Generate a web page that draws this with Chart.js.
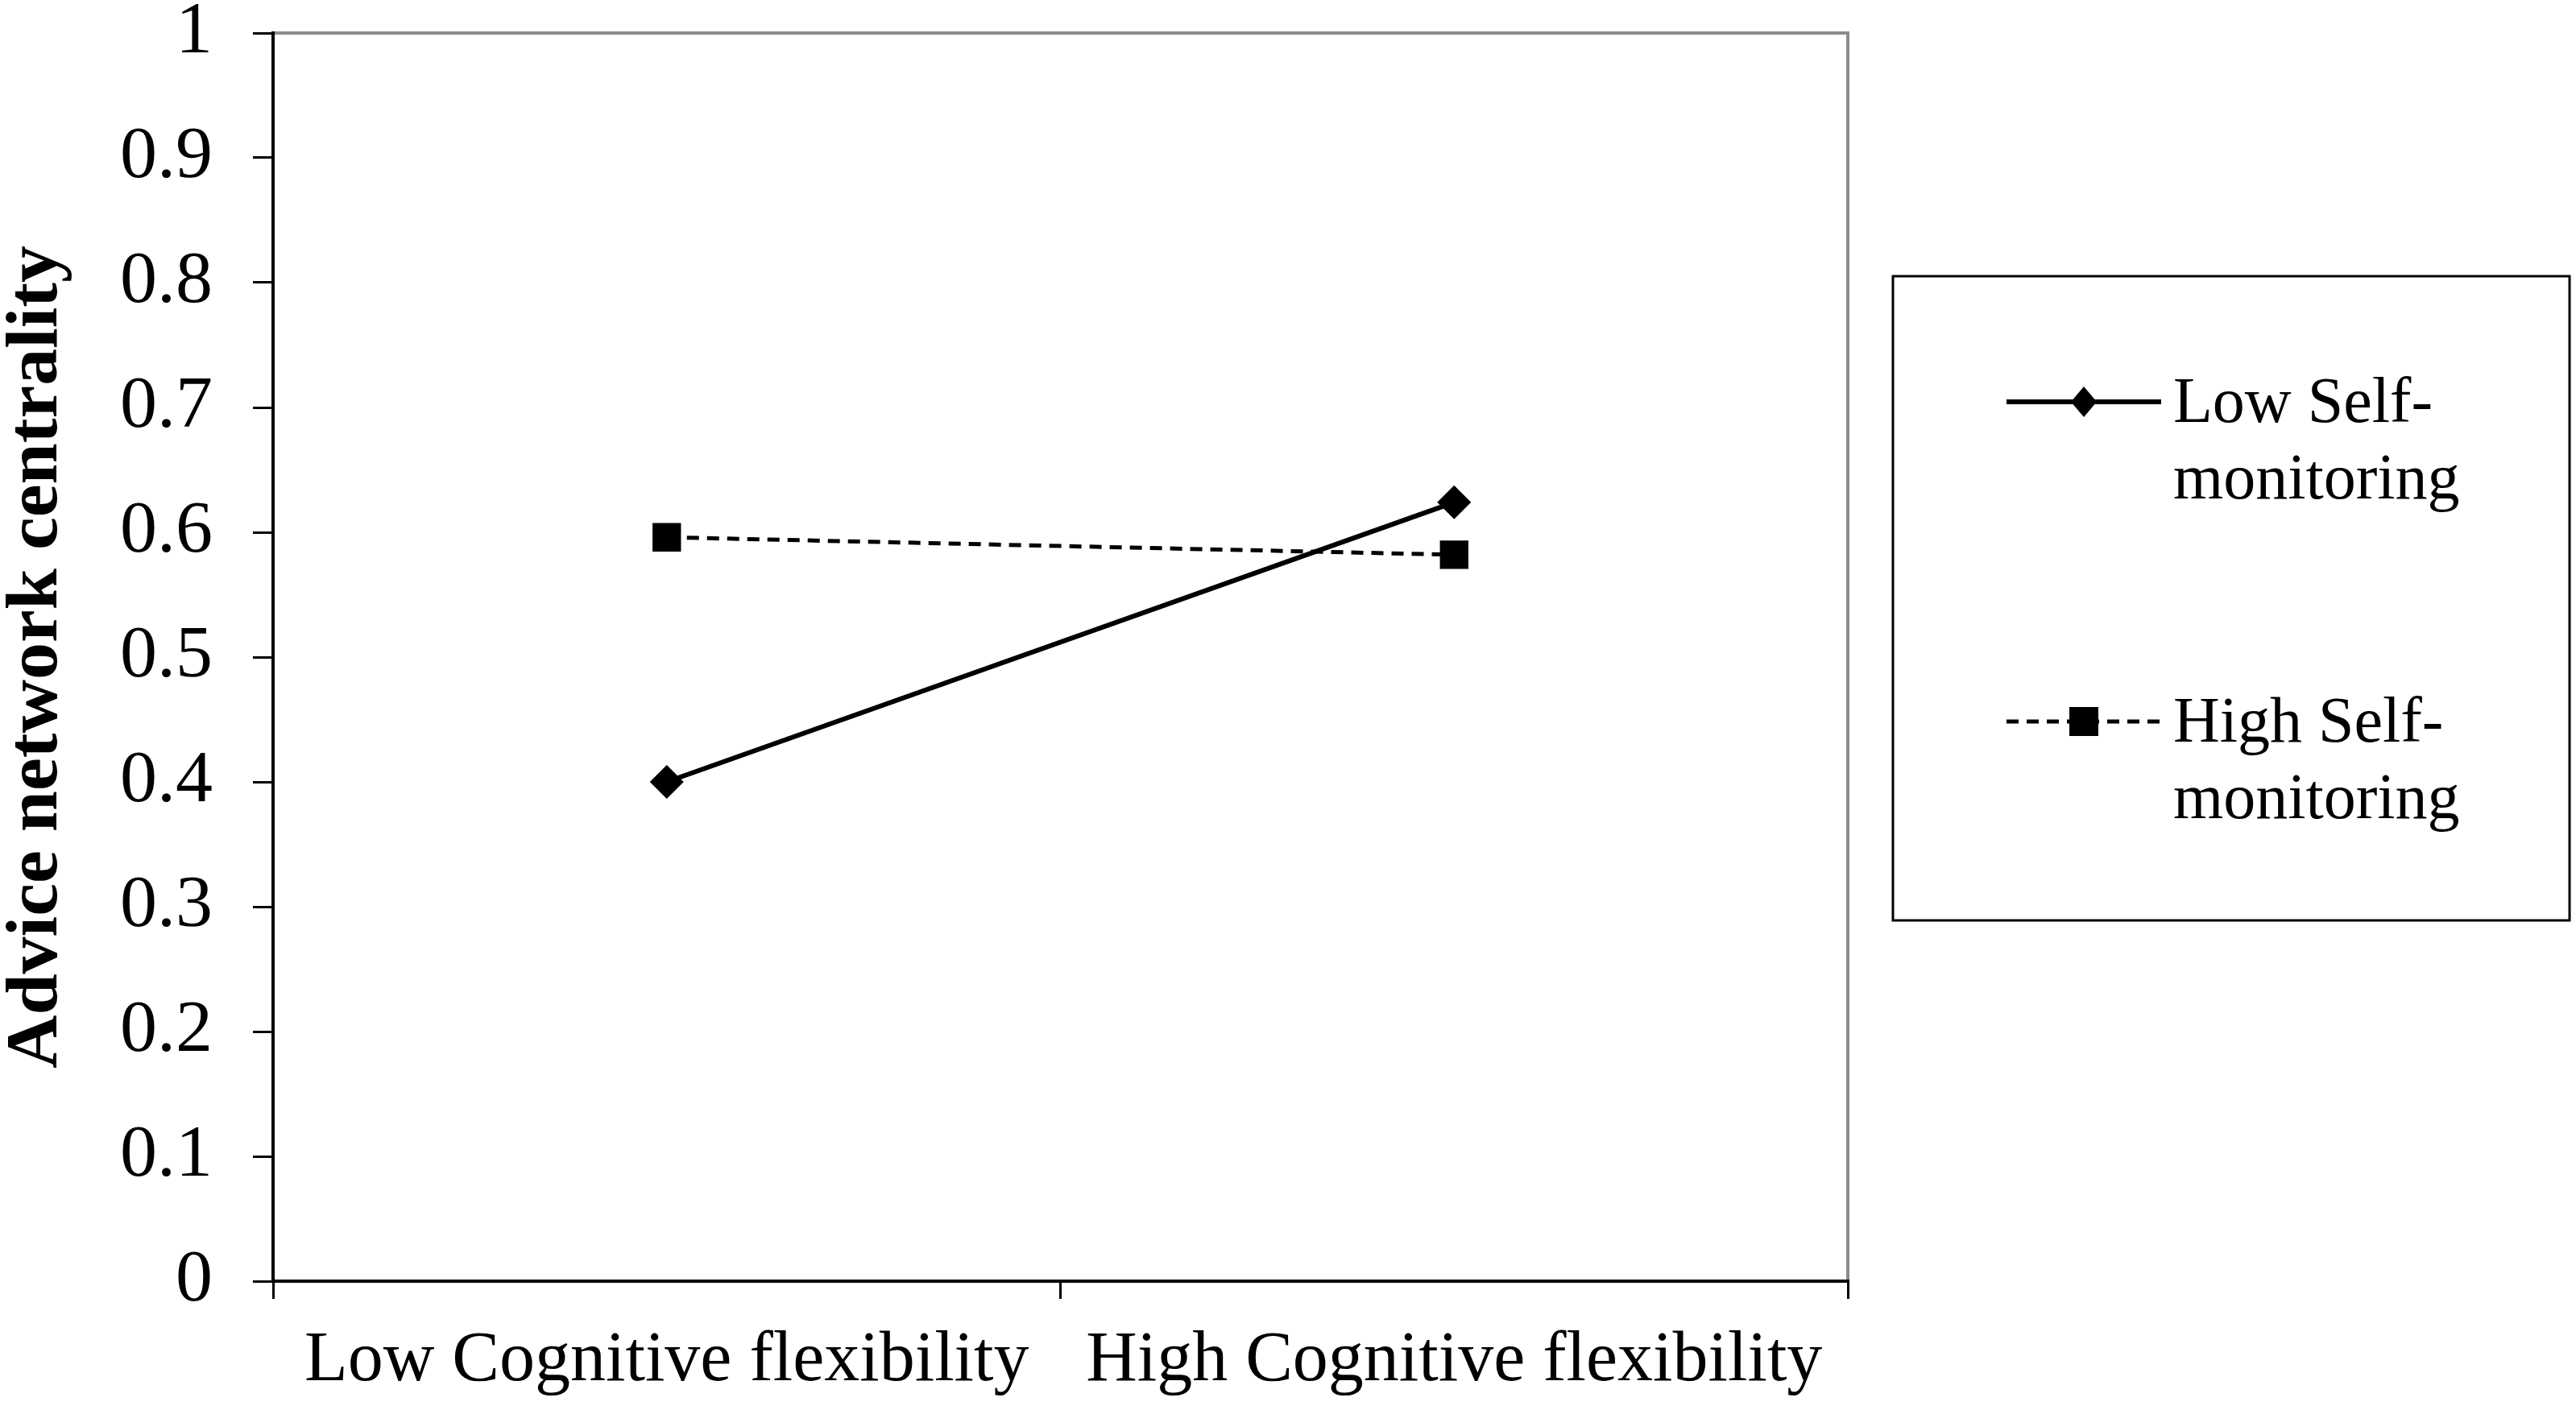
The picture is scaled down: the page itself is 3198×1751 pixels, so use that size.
<!DOCTYPE html>
<html lang="en">
<head>
  <meta charset="UTF-8">
  <title>Advice network centrality</title>
  <script src="https://cdn.jsdelivr.net/npm/chart.js"></script>
  <style>
    body {
      margin: 0;
      background: #fff;
    }
    .chart-container {
      width: 3198px;
      height: 1751px;
      position: relative;
    }
  </style>
</head>
<body>
  <div class="chart-container">
    <canvas id="lineChart"></canvas>
  </div>

  <script>
    const categories = ['Low Cognitive flexibility', 'High Cognitive flexibility'];
    const lowSelfMonitoring = [0.40, 0.624];
    const highSelfMonitoring = [0.596, 0.582];
    const seriesNames = ['Low Self-monitoring', 'High Self-monitoring'];
    const yTickValues = [0, 0.1, 0.2, 0.3, 0.4, 0.5, 0.6, 0.7, 0.8, 0.9, 1];

    const serif = "'Liberation Serif', 'Times New Roman', serif";

    // grey frame on top/right of the plot, axes are drawn over it
    const frame = {
      id: 'frame',
      beforeDraw(chart) {
        const { ctx, chartArea: a } = chart;
        ctx.save();
        ctx.strokeStyle = '#8c8c8c';
        ctx.lineWidth = 4;
        ctx.strokeRect(a.left, a.top, a.right - a.left, a.bottom - a.top);
        ctx.restore();
      }
    };

    // boxed legend on the right with wrapped labels
    const boxLegend = {
      id: 'boxLegend',
      afterDraw(chart) {
        const ctx = chart.ctx;
        ctx.save();
        ctx.strokeStyle = '#000';
        ctx.lineWidth = 3;
        ctx.strokeRect(2350, 343, 840, 800);

        const rowY = [499, 896];
        chart.data.datasets.forEach((ds, i) => {
          const y = rowY[i];
          ctx.strokeStyle = ds.borderColor;
          ctx.lineWidth = ds.borderWidth;
          ctx.setLineDash(ds.borderDash || []);
          ctx.beginPath();
          ctx.moveTo(2491, y);
          ctx.lineTo(2683, y);
          ctx.stroke();
          ctx.setLineDash([]);

          ctx.fillStyle = ds.pointBackgroundColor;
          ctx.beginPath();
          if (ds.pointStyle === 'rect') {
            ctx.rect(2587 - 18, y - 18, 36, 36);
          } else {
            ctx.moveTo(2587, y - 19);
            ctx.lineTo(2603, y);
            ctx.lineTo(2587, y + 19);
            ctx.lineTo(2571, y);
            ctx.closePath();
          }
          ctx.fill();

          ctx.fillStyle = '#000';
          ctx.font = '80px ' + serif;
          ctx.textBaseline = 'alphabetic';
          ds.label.split(/(?<=-)/).forEach((line, j) => {
            ctx.fillText(line, 2698, y + 25 + j * 95);
          });
        });
        ctx.restore();
      }
    };

    const ctx = document.getElementById('lineChart').getContext('2d');

    new Chart(ctx, {
      type: 'line',
      data: {
        labels: categories,
        datasets: [
          {
            label: seriesNames[0],
            data: lowSelfMonitoring,
            borderColor: '#000',
            backgroundColor: '#000',
            borderWidth: 6,
            pointStyle: 'rectRot',
            pointRadius: 21,
            pointBackgroundColor: '#000',
            pointBorderWidth: 0,
            tension: 0
          },
          {
            label: seriesNames[1],
            data: highSelfMonitoring,
            borderColor: '#000',
            backgroundColor: '#000',
            borderWidth: 5,
            borderDash: [15, 10],
            pointStyle: 'rect',
            pointRadius: 25,
            pointBackgroundColor: '#000',
            pointBorderWidth: 0,
            tension: 0
          }
        ]
      },
      options: {
        responsive: true,
        maintainAspectRatio: false,
        devicePixelRatio: 1,
        animation: false,
        layout: {
          autoPadding: false,
          padding: { top: 0, right: 904, bottom: 0, left: 0 }
        },
        plugins: {
          legend: { display: false },
          tooltip: { enabled: false }
        },
        scales: {
          x: {
            offset: true,
            grid: {
              offset: true,
              drawOnChartArea: false,
              drawTicks: true,
              tickLength: 22,
              color: '#000',
              lineWidth: 3
            },
            border: { color: '#000', width: 4 },
            ticks: {
              color: '#000',
              padding: 34,
              maxRotation: 0,
              autoSkip: false,
              font: { family: serif, size: 88, lineHeight: 1 }
            },
            afterFit(scale) { scale.height = 160; }
          },
          y: {
            min: 0,
            max: 1,
            afterBuildTicks(scale) {
              scale.ticks = yTickValues.map(v => ({ value: v }));
            },
            grid: {
              drawOnChartArea: false,
              drawTicks: true,
              tickLength: 25,
              color: '#000',
              lineWidth: 3
            },
            border: { color: '#000', width: 4 },
            ticks: {
              color: '#000',
              padding: 50,
              font: { family: serif, size: 92, lineHeight: 0.9 },
              callback: v => String(Number(v.toFixed(1)))
            },
            title: {
              display: true,
              text: 'Advice network centrality',
              color: '#000',
              padding: { top: 0, bottom: 0 },
              font: { family: serif, size: 92, weight: 'bold', lineHeight: 1 }
            },
            afterFit(scale) {
              scale.width = 339;
              scale.paddingTop = 41;
              scale.paddingBottom = 0;
            }
          }
        }
      },
      plugins: [frame, boxLegend]
    });
  </script>
</body>
</html>
